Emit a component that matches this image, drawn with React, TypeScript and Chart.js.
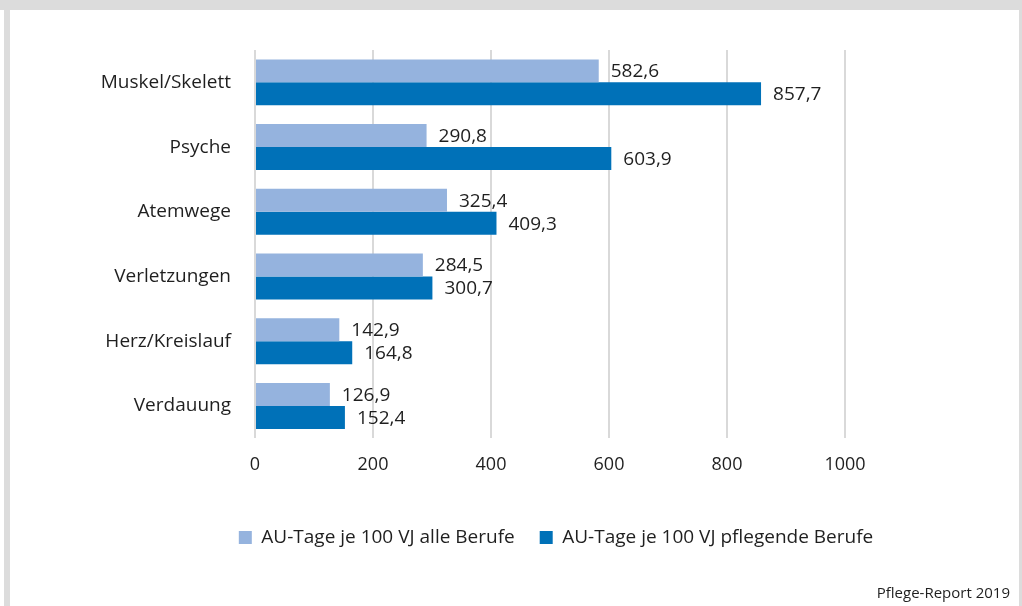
import React, { useEffect, useRef } from "react";
import { Chart, registerables } from "chart.js";

Chart.register(...registerables);

const categories = [
  "Muskel/Skelett",
  "Psyche",
  "Atemwege",
  "Verletzungen",
  "Herz/Kreislauf",
  "Verdauung",
];
const allValues = [582.6, 290.8, 325.4, 284.5, 142.9, 126.9];
const careValues = [857.7, 603.9, 409.3, 300.7, 164.8, 152.4];
const seriesLabels = [
  "AU-Tage je 100 VJ alle Berufe",
  "AU-Tage je 100 VJ pflegende Berufe",
];
const xMin = 0;
const xMax = 1000;
const xStep = 200;
const sourceText = "Pflege-Report 2019";

const FONT = '"Open Sans", "DejaVu Sans", sans-serif';
const TEXT = "#1f1f1f";

const fmt = (v: number) => v.toFixed(1).replace(".", ",");

const valueLabels = {
  id: "valueLabels",
  afterDatasetsDraw(chart: any) {
    const ctx = chart.ctx;
    ctx.save();
    ctx.font = `19px ${FONT}`;
    ctx.fillStyle = TEXT;
    ctx.textAlign = "left";
    ctx.textBaseline = "middle";
    chart.data.datasets.forEach((ds: any, i: number) => {
      const meta = chart.getDatasetMeta(i);
      meta.data.forEach((bar: any, j: number) => {
        ctx.fillText(fmt(ds.data[j]), bar.x + 12, bar.y + 1);
      });
    });
    ctx.restore();
  },
};

export default function App() {
  const ref = useRef<HTMLCanvasElement | null>(null);

  useEffect(() => {
    if (!ref.current) return;
    Chart.defaults.font.family = FONT;
    const chart = new Chart(ref.current, {
      type: "bar",
      data: {
        labels: categories,
        datasets: [
          {
            label: seriesLabels[0],
            data: allValues,
            backgroundColor: "#95b3de",
            borderWidth: 0,
            barPercentage: 1,
            categoryPercentage: 0.71,
          },
          {
            label: seriesLabels[1],
            data: careValues,
            backgroundColor: "#0071b8",
            borderWidth: 0,
            barPercentage: 1,
            categoryPercentage: 0.71,
          },
        ],
      },
      options: {
        indexAxis: "y",
        animation: false,
        responsive: false,
        maintainAspectRatio: false,
        layout: { padding: { top: 50, left: 90, right: 0, bottom: 49 } },
        scales: {
          x: {
            min: xMin,
            max: xMax,
            ticks: {
              stepSize: xStep,
              font: { size: 18 },
              color: TEXT,
              padding: 16,
              callback: (v: any) => String(v),
            },
            grid: { color: "#d9d9d9", lineWidth: 2, drawTicks: false },
            border: { display: false },
            afterFit: (s: any) => {
              s.height += 11;
            },
          },
          y: {
            ticks: { font: { size: 19 }, color: TEXT, padding: 24 },
            grid: { display: false, drawTicks: false },
            border: { display: false },
            afterFit: (s: any) => {
              s.width = 165;
            },
          },
          yRight: {
            type: "category",
            position: "right",
            ticks: { display: false },
            grid: { display: false, drawTicks: false },
            border: { display: false },
            afterFit: (s: any) => {
              s.width = 177;
            },
          },
        },
        plugins: {
          legend: {
            position: "bottom",
            labels: {
              font: { size: 19 },
              color: TEXT,
              boxWidth: 13,
              boxHeight: 13,
              padding: 25,
            },
          },
          tooltip: { enabled: false },
        },
      },
      plugins: [valueLabels],
    });
    return () => chart.destroy();
  }, []);

  return (
    <div
      style={{
        position: "fixed",
        left: 0,
        top: 0,
        width: 1022,
        height: 606,
        background: "#ffffff",
        overflow: "hidden",
      }}
    >
      <div style={{ position: "absolute", left: 0, top: 0, width: 1022, height: 10, background: "#dcdcdc" }} />
      <div style={{ position: "absolute", left: 4, top: 0, width: 6, height: 606, background: "#dcdcdc" }} />
      <div style={{ position: "absolute", left: 1019, top: 0, width: 3, height: 606, background: "#dcdcdc" }} />
      <canvas
        ref={ref}
        width={1022}
        height={606}
        style={{ position: "absolute", left: 0, top: 0, width: 1022, height: 606 }}
      />
      <div
        style={{
          position: "absolute",
          right: 12,
          top: 582,
          fontFamily: FONT,
          fontSize: 15,
          color: TEXT,
          lineHeight: "20px",
        }}
      >
        {sourceText}
      </div>
    </div>
  );
}
